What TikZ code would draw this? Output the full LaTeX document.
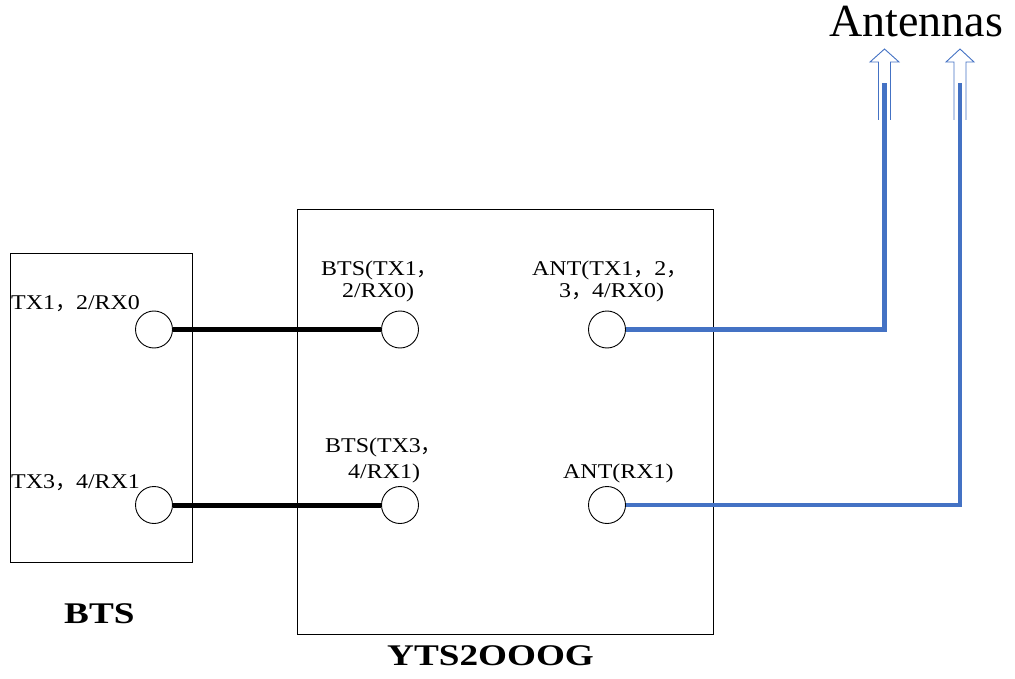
\documentclass[tikz,border=0pt]{standalone}
\usepackage{fontspec}
\setmainfont{Liberation Serif}
\newfontfamily\lblfont{Liberation Serif}[FakeStretch=1.14]
\newfontfamily\bldfont{Liberation Serif}[FakeStretch=1.24]
\newfontfamily\cjk{Noto Sans CJK SC}
\newcommand\fc{{\cjk ，}}
\definecolor{antblue}{RGB}{68,114,196}
\tikzset{
  box/.style={draw, line width=0.9pt, inner sep=0pt},
  port/.style={draw, circle, line width=0.9pt, minimum size=37pt, inner sep=0pt},
  lbl/.style={anchor=base west, inner sep=0pt, font=\lblfont\fontsize{21}{24}\selectfont},
  ttl/.style={anchor=base west, inner sep=0pt, font=\bldfont\bfseries\fontsize{30}{34}\selectfont},
  blackline/.style={line width=5pt, black},
  blueline/.style={line width=4.5pt, antblue},
  hollow/.style={draw=antblue, line width=0.9pt, fill=white, line join=miter}
}
\begin{document}
\begin{tikzpicture}[x=1pt,y=-1pt]
\useasboundingbox (0,0) rectangle (1015,679);
% boxes
\node[box, minimum width=182pt, minimum height=309pt] (btsbox) at (101,407.5) {};
\node[box, minimum width=416pt, minimum height=425pt] (ytsbox) at (505,421.5) {};
% ports
\node[port] (b1) at (154,329.5) {};
\node[port] (b2) at (154,505) {};
\node[port] (y1) at (400,329.5) {};
\node[port] (y2) at (400,505) {};
\node[port] (a1) at (607,329.5) {};
\node[port] (a2) at (607,505) {};
% labels
\node[lbl] (lb1) at (11,309) {TX1\fc 2/RX0};
\node[lbl] (lb2) at (11,488) {TX3\fc 4/RX1};
\node[lbl] (ly1a) at (321,276) {BTS(TX1\fc};
\node[lbl] (ly1b) at (342,298) {2/RX0)};
\node[lbl] (ly2a) at (325,452) {BTS(TX3\fc};
\node[lbl] (ly2b) at (348,478) {4/RX1)};
\node[lbl] (la1a) at (532,276) {ANT(TX1\fc 2\fc};
\node[lbl] (la1b) at (559,298) {3\fc 4/RX0)};
\node[lbl] (la2) at (563,478) {ANT(RX1)};
\node[ttl] (tbts) at (64,623) {BTS};
\node[ttl] (tyts) at (387,665) {YTS2OOOG};
\node[anchor=base west, inner sep=0pt, font=\fontsize{46}{50}\selectfont] (tant) at (829,37) {Antennas};
% hollow arrows
\draw[hollow] (878.5,120) -- (878.5,62) -- (870,62) -- (884.5,49) -- (899,62) -- (890.5,62) -- (890.5,120);
\draw[hollow] (954,120) -- (954,62) -- (946,62) -- (960,49) -- (974,62) -- (966,62) -- (966,120);
\coordinate (ant1) at (884.5,83);
\coordinate (ant2) at (960,83);
% connectors
\draw[blackline] (b1.east) -- (y1.west);
\draw[blackline] (b2.east) -- (y2.west);
\draw[blueline] (a1.east) -| (ant1);
\draw[blueline] (a2.east) -| (ant2);
\end{tikzpicture}
\end{document}
